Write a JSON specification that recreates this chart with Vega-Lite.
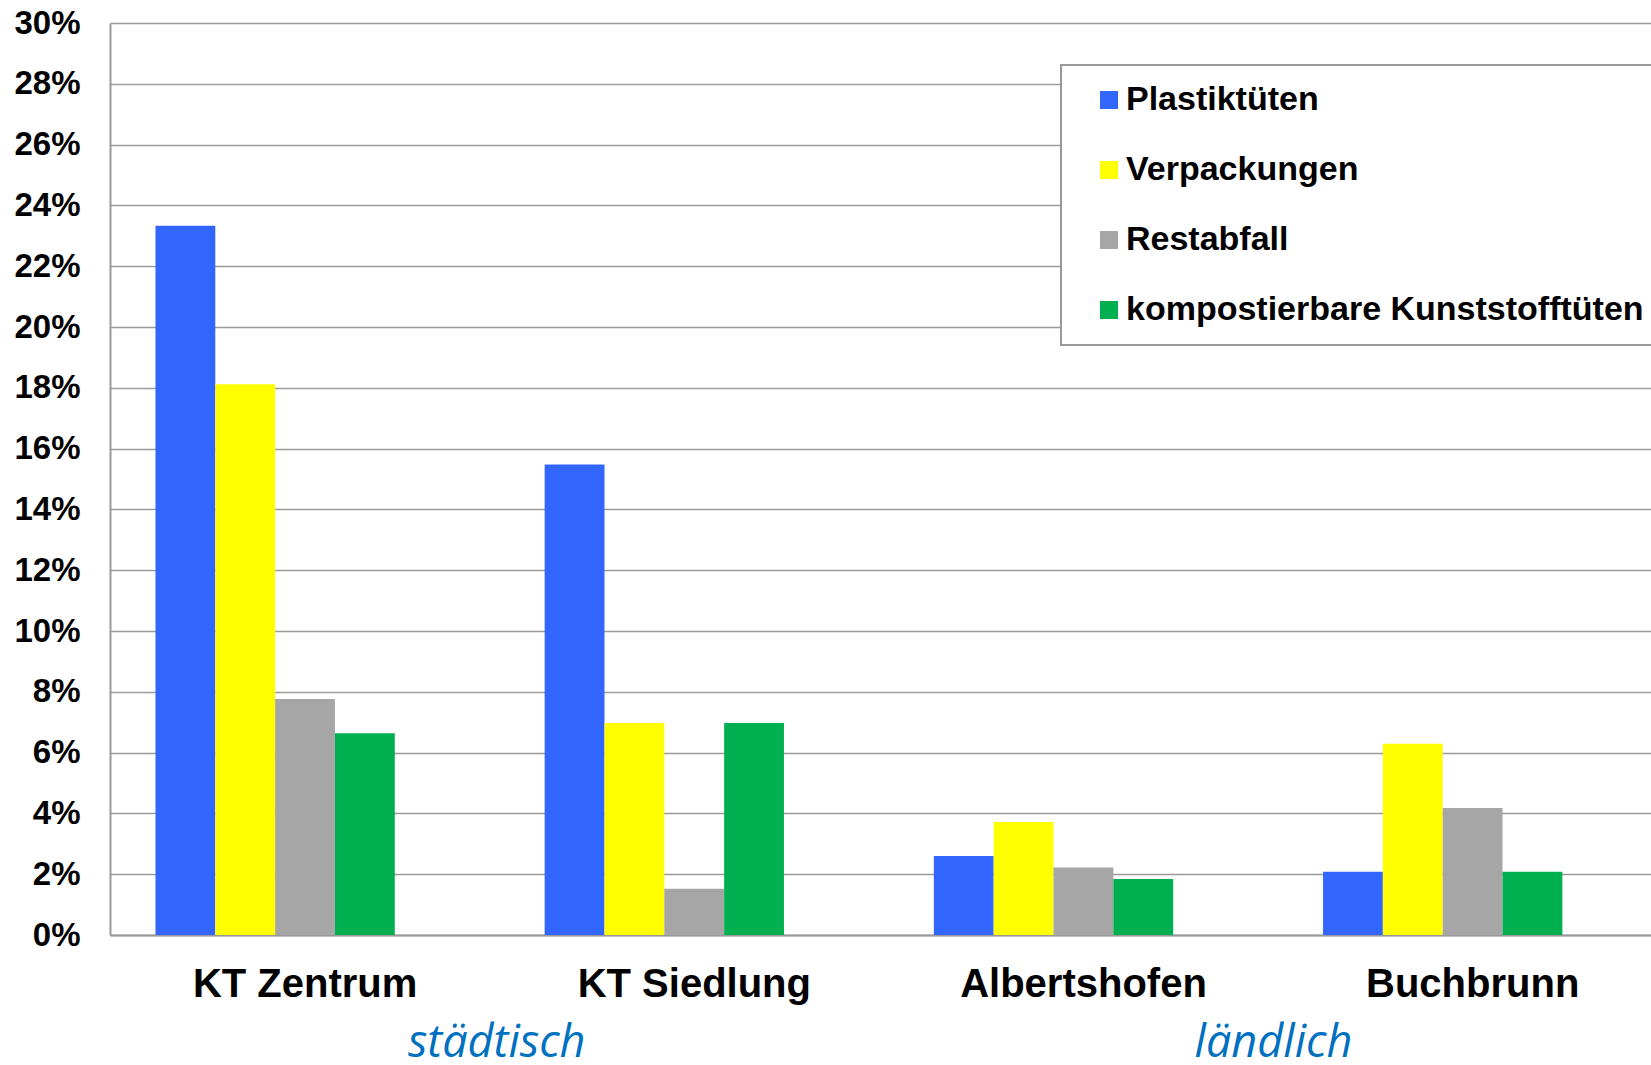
{
  "$schema": "https://vega.github.io/schema/vega-lite/v6.json",
  "autosize": {"type": "none"},
  "padding": {"left": 110, "top": 23, "right": 0, "bottom": 130},
  "width": 1541,
  "height": 912,
  "background": "white",
  "config": {
    "view": {"stroke": null},
    "font": "Liberation Sans",
    "axis": {"labelFont": "Liberation Sans", "labelFontWeight": "bold", "labelColor": "black"},
    "legend": {"strokeWidth": 2}
  },
  "layer": [
    {
      "data": {
        "values": [
          {"Ort": "KT Zentrum", "Art": "Plastiktüten", "Anteil": 0.2333},
          {"Ort": "KT Zentrum", "Art": "Verpackungen", "Anteil": 0.1812},
          {"Ort": "KT Zentrum", "Art": "Restabfall", "Anteil": 0.0776},
          {"Ort": "KT Zentrum", "Art": "kompostierbare Kunststofftüten", "Anteil": 0.0664},
          {"Ort": "KT Siedlung", "Art": "Plastiktüten", "Anteil": 0.1548},
          {"Ort": "KT Siedlung", "Art": "Verpackungen", "Anteil": 0.0697},
          {"Ort": "KT Siedlung", "Art": "Restabfall", "Anteil": 0.0152},
          {"Ort": "KT Siedlung", "Art": "kompostierbare Kunststofftüten", "Anteil": 0.0697},
          {"Ort": "Albertshofen", "Art": "Plastiktüten", "Anteil": 0.0260},
          {"Ort": "Albertshofen", "Art": "Verpackungen", "Anteil": 0.0372},
          {"Ort": "Albertshofen", "Art": "Restabfall", "Anteil": 0.0222},
          {"Ort": "Albertshofen", "Art": "kompostierbare Kunststofftüten", "Anteil": 0.0184},
          {"Ort": "Buchbrunn", "Art": "Plastiktüten", "Anteil": 0.0208},
          {"Ort": "Buchbrunn", "Art": "Verpackungen", "Anteil": 0.0629},
          {"Ort": "Buchbrunn", "Art": "Restabfall", "Anteil": 0.0418},
          {"Ort": "Buchbrunn", "Art": "kompostierbare Kunststofftüten", "Anteil": 0.0208}
        ]
      },
      "mark": {"type": "bar", "strokeWidth": 0},
      "encoding": {
        "x": {
          "field": "Ort", "type": "nominal", "sort": null,
          "scale": {"paddingInner": 0.3851, "paddingOuter": 0.1723, "align": 0.339, "round": false},
          "axis": {
            "title": null, "labelAngle": 0, "labelFontSize": 40, "labelPadding": 29,
            "labelOffset": 30, "ticks": false, "tickSize": 0, "domainColor": "#999999", "domainWidth": 2,
            "grid": false, "labelLimit": 400
          }
        },
        "xOffset": {
          "field": "Art", "type": "nominal",
          "sort": ["Plastiktüten", "Verpackungen", "Restabfall", "kompostierbare Kunststofftüten"],
          "scale": {"paddingInner": 0, "paddingOuter": 0}
        },
        "y": {
          "field": "Anteil", "type": "quantitative",
          "scale": {"domain": [0, 0.3], "nice": false, "zero": true},
          "axis": {
            "title": null, "format": ".0%", "values": [0, 0.02, 0.04, 0.06, 0.08, 0.1, 0.12, 0.14, 0.16, 0.18, 0.2, 0.22, 0.24, 0.26, 0.28, 0.3],
            "labelFontSize": 33, "labelPadding": 30, "ticks": false, "tickSize": 0,
            "domainColor": "#999999", "domainWidth": 2,
            "grid": true, "gridColor": "#9a9a9a", "gridWidth": 1.5
          }
        },
        "color": {
          "field": "Art", "type": "nominal",
          "sort": ["Plastiktüten", "Verpackungen", "Restabfall", "kompostierbare Kunststofftüten"],
          "scale": {
            "domain": ["Plastiktüten", "Verpackungen", "Restabfall", "kompostierbare Kunststofftüten"],
            "range": ["#3366FF", "#FFFF00", "#A6A6A6", "#00B050"]
          },
          "legend": {
            "title": null, "orient": "none", "legendX": 951, "legendY": 42,
            "strokeColor": "#999999", "fillColor": "white", "padding": 18,
            "symbolType": "square", "symbolSize": 324, "symbolStrokeWidth": 0, "symbolOffset": 13,
            "labelOffset": 0, "labelFont": "Liberation Sans", "labelFontWeight": "bold", "labelFontSize": 34,
            "labelColor": "black", "labelLimit": 700, "rowPadding": 36
          }
        }
      }
    },
    {
      "data": {"values": [{"Gruppe": "städtisch"}, {"Gruppe": "ländlich"}]},
      "mark": {"type": "text", "font": "Open Sans", "fontStyle": "italic", "fontSize": 45, "color": "#0070C0", "baseline": "alphabetic", "align": "center"},
      "encoding": {
        "x": {
          "field": "Gruppe", "type": "nominal", "sort": ["städtisch", "ländlich"],
          "scale": {"type": "point", "padding": 0.492, "align": 0.506, "round": false},
          "axis": null
        },
        "y": {"datum": -0.0402, "type": "quantitative"},
        "text": {"field": "Gruppe"}
      }
    }
  ],
  "resolve": {"scale": {"x": "independent"}, "axis": {"x": "independent"}}
}
